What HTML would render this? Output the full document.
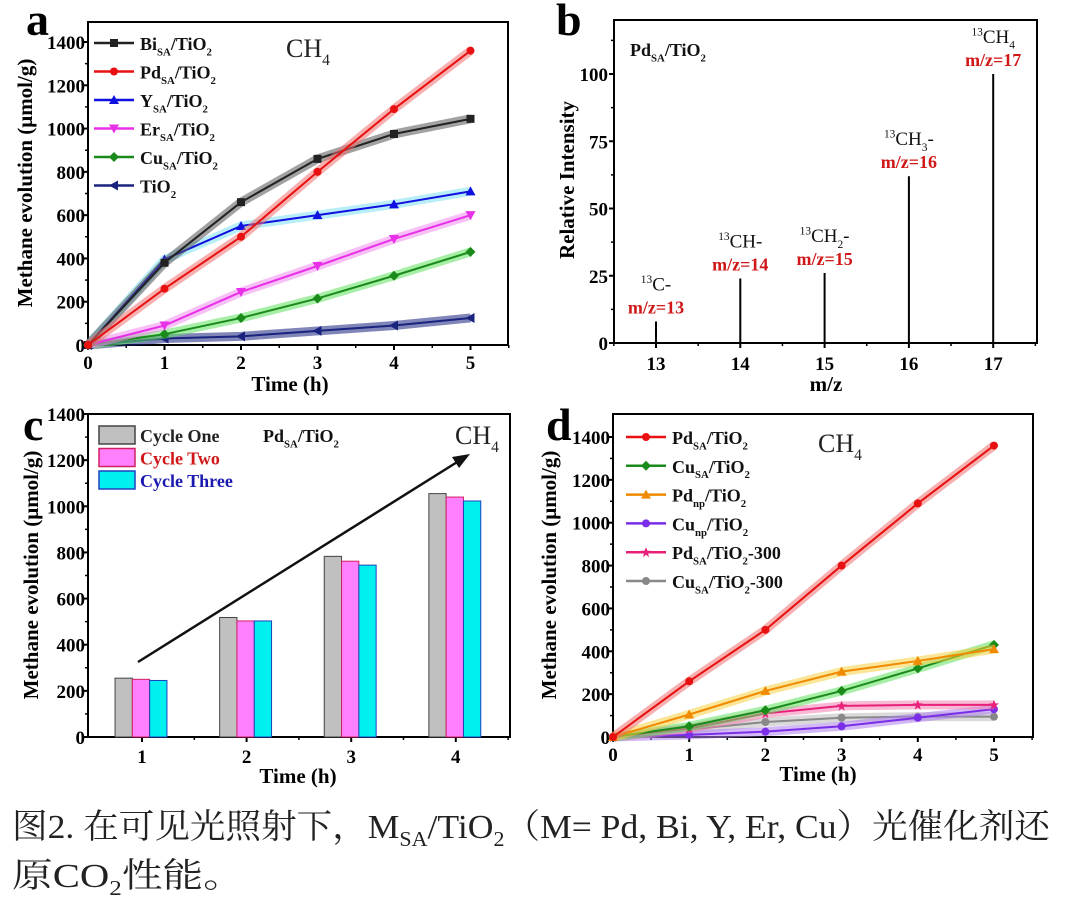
<!DOCTYPE html>
<html><head><meta charset="utf-8"><style>
html,body{margin:0;padding:0;background:#fff;}
svg{display:block;font-family:"Liberation Serif","Noto Serif CJK SC",serif;}
</style></head><body>
<svg id="fig" width="1080" height="915" viewBox="0 0 1080 915" xmlns="http://www.w3.org/2000/svg">
<g id="pa"></g>
<g id="pb"></g>
<g id="pc"></g>
<g id="pd"></g>
<g font-family="Liberation Serif, Noto Serif CJK SC, serif" font-size="34" fill="#222">
<text x="12" y="838" textLength="1038" lengthAdjust="spacingAndGlyphs">图2. 在可见光照射下，M<tspan font-size="21" dy="8">SA</tspan><tspan dy="-8">/TiO</tspan><tspan font-size="21" dy="8">2</tspan><tspan dy="-8">（M= Pd, Bi, Y, Er, Cu）光催化剂还</tspan></text>
<text x="12" y="887" textLength="232" lengthAdjust="spacingAndGlyphs">原CO<tspan font-size="21" dy="8">2</tspan><tspan dy="-8">性能。</tspan></text>
</g>
</svg>
<script>
// Panel a data
const aTimes = [0,1,2,3,4,5];
const aBi = [0,380,660,860,975,1045];
const aPd = [0,260,500,800,1090,1360];
const aY = [0,395,550,600,650,710];
const aEr = [0,90,245,365,490,600];
const aCu = [0,50,125,215,320,430];
const aTi = [0,30,40,65,90,125];
// Panel b data
const bMz = [13,14,15,16,17];
const bIntensity = [8,24,26,62,100];
const bIons = ["C-","CH-","CH2-","CH3-","CH4"];
// Panel c data
const cCats = ["1","2","3","4"];
const cOne = [255,518,783,1055];
const cTwo = [250,503,762,1040];
const cThree = [245,503,745,1023];
// Panel d data
const dPd = [0,260,500,800,1090,1360];
const dCu = [0,50,125,215,320,430];
const dPdnp = [0,105,215,305,355,410];
const dCunp = [0,10,25,50,90,130];
const dPd300 = [0,40,110,145,150,150];
const dCu300 = [0,35,70,90,95,95];
const yTicks = [0,200,400,600,800,1000,1200,1400];
const tTicks = [0,1,2,3,4,5];
const bYTicks = [0,25,50,75,100];

const NS = "http://www.w3.org/2000/svg";
const TICK = 19, TITLE = 21, LEG = 18;
function mk(parent, tag, attrs, text){
  const e = document.createElementNS(NS, tag);
  for (const k in attrs) e.setAttribute(k, attrs[k]);
  if (text !== undefined) e.textContent = text;
  parent.appendChild(e);
  return e;
}
function subText(parent, x, y, parts, size, fill, anchor, weight){
  const t = mk(parent, 'text', {x:x, y:y, 'font-size':size, fill:fill, 'text-anchor':anchor||'start', 'font-weight':weight||'bold'});
  let cur = 0;
  parts.forEach(p=>{
    let dy = 0, fs = size;
    if (p[1]==='sub'){ dy = size*0.3 - cur; cur = size*0.3; fs = size*0.6; }
    else if (p[1]==='sup'){ dy = -size*0.4 - cur; cur = -size*0.4; fs = size*0.6; }
    else { dy = -cur; cur = 0; }
    mk(t, 'tspan', {dy:dy, 'font-size':fs}, p[0]);
  });
  return t;
}
function frame(g, L, T, R, B){
  const r = mk(g, 'rect', {x:L, y:T, width:R-L, height:B-T, fill:'none', stroke:'#000', 'stroke-width':2});
  
  
}
function yAxis(g, L, ys, ticks, minor, title, titleX, cy){
  ticks.forEach((v,i)=>{
    mk(g,'line',{x1:L-5,x2:L,y1:ys(v),y2:ys(v),stroke:'#000','stroke-width':2});
    const t = mk(g,'text',{x:L-3,y:ys(v)+7,'text-anchor':'end','font-size':TICK,'font-weight':'bold'}, v);
    
    
    if (minor && i<ticks.length-1){
      const m=(ticks[i]+ticks[i+1])/2;
      mk(g,'line',{x1:L-3,x2:L,y1:ys(m),y2:ys(m),stroke:'#000','stroke-width':1.5});
    }
  });
  const tt = mk(g,'text',{x:titleX,y:cy,'text-anchor':'middle','font-size':TITLE,'font-weight':'bold',transform:`rotate(-90 ${titleX} ${cy})`}, title);
  
  
}
function xAxisNum(g, B, xs, ticks, minor, title, cx, ty){
  ticks.forEach((v,i)=>{
    mk(g,'line',{x1:xs(v),x2:xs(v),y1:B,y2:B+5,stroke:'#000','stroke-width':2});
    const t = mk(g,'text',{x:xs(v),y:B+24,'text-anchor':'middle','font-size':TICK,'font-weight':'bold'}, v);
    
    
    if (minor){
      const m=v+0.5;
      mk(g,'line',{x1:xs(m),x2:xs(m),y1:B,y2:B+3,stroke:'#000','stroke-width':1.5});
    }
  });
  const tt = mk(g,'text',{x:cx,y:ty,'text-anchor':'middle','font-size':TITLE,'font-weight':'bold'}, title);
  
  
}
function marker(g, type, x, y, color, s){
  s = s||4;
  if (type==='square') return mk(g,'rect',{x:x-s,y:y-s,width:2*s,height:2*s,fill:color});
  if (type==='circle') return mk(g,'circle',{cx:x,cy:y,r:s,fill:color});
  if (type==='up') return mk(g,'polygon',{points:`${x},${y-s-1} ${x-s-1},${y+s} ${x+s+1},${y+s}`,fill:color});
  if (type==='down') return mk(g,'polygon',{points:`${x},${y+s+1} ${x-s-1},${y-s} ${x+s+1},${y-s}`,fill:color});
  if (type==='diamond') return mk(g,'polygon',{points:`${x},${y-s-1} ${x+s+1},${y} ${x},${y+s+1} ${x-s-1},${y}`,fill:color});
  if (type==='left') return mk(g,'polygon',{points:`${x-s-1},${y} ${x+s},${y-s-1} ${x+s},${y+s+1}`,fill:color});
  if (type==='star') return mk(g,'polygon',{points:`${x},${y-5} ${x+1.5},${y-1.5} ${x+5},${y-1.5} ${x+2},${y+1} ${x+3},${y+5} ${x},${y+2.5} ${x-3},${y+5} ${x-2},${y+1} ${x-5},${y-1.5} ${x-1.5},${y-1.5}`,fill:color});
  if (type==='hex') return mk(g,'circle',{cx:x,cy:y,r:s,fill:color});
}
function drawSeries(g, xs, ys, times, vals, color, band, mtype, name){
  const sg = mk(g,'g',{});
  
  
  const pts = times.map((t,i)=>xs(t)+','+ys(vals[i])).join(' ');
  mk(sg,'polyline',{points:pts,fill:'none',stroke:band,'stroke-width':9,'stroke-opacity':0.55,'stroke-linejoin':'round'});
  mk(sg,'polyline',{points:pts,fill:'none',stroke:color,'stroke-width':2});
  times.forEach((t,i)=>{ marker(sg, mtype, xs(t), ys(vals[i]), color); });
}
function legendEntry(g, x, y, color, mtype, parts, size){
  const lg = mk(g,'g',{});
  
  
  mk(lg,'line',{x1:x,x2:x+40,y1:y,y2:y,stroke:color,'stroke-width':2.5});
  marker(lg, mtype, x+20, y, color, 4);
  subText(lg, x+46, y+7, parts, size||LEG, '#111');
}

// ---------- Panel a ----------
(function(){
  const g = document.getElementById('pa');
  const L=88,T=22,R=508,B=345;
  const xs = v => 88 + v*76.5;
  const ys = v => 345 - v*(303/1400);
  frame(g,L,T,R,B);
  yAxis(g,L,ys,yTicks,true,'Methane evolution (μmol/g)',32,183);
  xAxisNum(g,B,xs,tTicks,true,'Time (h)',290,391);
  drawSeries(g,xs,ys,aTimes,aTi,'#1a237e','#1a237e',"left",'series-tio2');
  drawSeries(g,xs,ys,aTimes,aCu,'#1a8a1a','#5ee05e',"diamond",'series-cu-sa');
  drawSeries(g,xs,ys,aTimes,aEr,'#e830e8','#f08cf0',"down",'series-er-sa');
  drawSeries(g,xs,ys,aTimes,aY,'#1010e0','#7ee0f0',"up",'series-y-sa');
  drawSeries(g,xs,ys,aTimes,aBi,'#222','#555',"square",'series-bi-sa');
  drawSeries(g,xs,ys,aTimes,aPd,'#e81010','#f07070',"circle",'series-pd-sa');
  const items=[['#222','square','Bi'],['#e81010','circle','Pd'],['#1010e0','up','Y'],['#e830e8','down','Er'],['#1a8a1a','diamond','Cu']];
  items.forEach((it,i)=>legendEntry(g,94,43+i*28.5,it[0],it[1],[[it[2],'n'],['SA','sub'],['/TiO','n'],['2','sub']]));
  legendEntry(g,94,43+5*28.5,'#1a237e','left',[['TiO','n'],['2','sub']]);
  subText(g,286,57,[['CH','n'],['4','sub']],26,'#222','start','normal');
  const p = mk(g,'text',{x:26,y:35,'font-size':46,'font-weight':'bold'},'a');
   
})();

// ---------- Panel b ----------
(function(){
  const g = document.getElementById('pb');
  const L=614,T=20,R=1037,B=343;
  const xs = v => 656 + (v-13)*84.3;
  const ys = v => 343 - v*2.69;
  frame(g,L,T,R,B);
  bYTicks.forEach((v,i)=>{
    mk(g,'line',{x1:L-5,x2:L,y1:ys(v),y2:ys(v),stroke:'#000','stroke-width':2});
    const t=mk(g,'text',{x:L-6,y:ys(v)+7,'text-anchor':'end','font-size':TICK,'font-weight':'bold'},v);
     
  });
  [12.5,37.5,62.5,87.5,112.5].forEach(v=>mk(g,'line',{x1:L-3,x2:L,y1:ys(v),y2:ys(v),stroke:'#000','stroke-width':1.5}));
  const yt = mk(g,'text',{x:574,y:180,'text-anchor':'middle','font-size':TITLE,'font-weight':'bold',transform:'rotate(-90 574 180)'},'Relative Intensity');
   
  [12.5,13,13.5,14,14.5,15,15.5,16,16.5,17,17.5].forEach(v=>{
    const major = Number.isInteger(v);
    mk(g,'line',{x1:xs(v),x2:xs(v),y1:B,y2:B+(major?5:3),stroke:'#000','stroke-width':major?2:1.5});
  });
  bMz.forEach((m,i)=>{
    const t=mk(g,'text',{x:xs(m),y:370,'text-anchor':'middle','font-size':TICK,'font-weight':'bold'},m);
     
    const ln = mk(g,'line',{x1:xs(m),x2:xs(m),y1:B,y2:ys(bIntensity[i]),stroke:'#000','stroke-width':2});
     
    const top = ys(bIntensity[i]);
    const lb = mk(g,'text',{x:xs(m),y:top-8,'text-anchor':'middle','font-size':18,'font-weight':'bold',fill:'#d01818'},'m/z='+m);
     
    const ion = bIons[i];
    const mt = ion.match(/^(CH|C)(\d?)(-?)$/);
    const parts=[['13','sup'],[mt[1],'n']];
    if (mt[2]) parts.push([mt[2],'sub']);
    if (mt[3]) parts.push(['-','n']);
    const it = subText(g, xs(m), top-31, parts, 19, '#111','middle','normal');
     
  });
  const xt=mk(g,'text',{x:826,y:391,'text-anchor':'middle','font-size':TITLE,'font-weight':'bold'},'m/z');
   
  subText(g,630,56,[['Pd','n'],['SA','sub'],['/TiO','n'],['2','sub']],18,'#111');
  const p = mk(g,'text',{x:556,y:35,'font-size':46,'font-weight':'bold'},'b');
   
})();

// ---------- Panel c ----------
(function(){
  const g = document.getElementById('pc');
  const L=88,T=414,R=510,B=737;
  const xc = i => 142 + i*104.6;
  const ys = v => 737 - v*(323/1400);
  frame(g,L,T,R,B);
  yAxis(g,L,ys,yTicks,true,'Methane evolution (μmol/g)',38,575);
  cCats.forEach((c,i)=>{
    mk(g,'line',{x1:xc(i),x2:xc(i),y1:B,y2:B+5,stroke:'#000','stroke-width':2});
    mk(g,'line',{x1:xc(i)+52.3,x2:xc(i)+52.3,y1:B,y2:B+3,stroke:'#000','stroke-width':1.5});
    const t=mk(g,'text',{x:xc(i),y:763,'text-anchor':'middle','font-size':TICK,'font-weight':'bold'},c);
     
  });
  const xt=mk(g,'text',{x:298,y:783,'text-anchor':'middle','font-size':TITLE,'font-weight':'bold'},'Time (h)');
   
  const sets=[[cOne,'#c0c0c0','#444','bar-cycle-one'],[cTwo,'#ff80ff','#d02060','bar-cycle-two'],[cThree,'#00f0f0','#2040c0','bar-cycle-three']];
  const bw=17.3;
  sets.forEach((s,k)=>{
    s[0].forEach((v,i)=>{
      const x = xc(i) - 1.5*bw + k*bw - 1;
      const r=mk(g,'rect',{x:x,y:ys(v),width:bw,height:B-ys(v),fill:s[1],stroke:s[2],'stroke-width':1});
       
    });
  });
  const leg=[['#c0c0c0','#444','Cycle One','#222'],['#ff80ff','#d02060','Cycle Two','#d01818'],['#00f0f0','#2040c0','Cycle Three','#1a1ab0']];
  leg.forEach((l,i)=>{
    const lg=mk(g,'g',{});  
    mk(lg,'rect',{x:99,y:426+i*22.5,width:36,height:18,fill:l[0],stroke:l[1],'stroke-width':1.5});
    mk(lg,'text',{x:140,y:442+i*22.5,'font-size':18,'font-weight':'bold',fill:l[3]},l[2]);
  });
  subText(g,263,442,[['Pd','n'],['SA','sub'],['/TiO','n'],['2','sub']],18,'#111');
  subText(g,455,444,[['CH','n'],['4','sub']],26,'#222','start','normal');
  const ar=mk(g,'g',{});  
  mk(ar,'line',{x1:138,y1:662,x2:462,y2:459,stroke:'#111','stroke-width':2.5});
  mk(ar,'polygon',{points:'470,454 452,457 459,468',fill:'#111'});
  const p = mk(g,'text',{x:23,y:440,'font-size':46,'font-weight':'bold'},'c');
   
})();

// ---------- Panel d ----------
(function(){
  const g = document.getElementById('pd');
  const L=613,T=414,R=1033,B=737;
  const xs = v => 613 + v*76.2;
  const ys = v => 737 - v*(300/1400);
  frame(g,L,T,R,B);
  yAxis(g,L,ys,yTicks,true,'Methane evolution (μmol/g)',556,575);
  xAxisNum(g,B,xs,tTicks,true,'Time (h)',818,781);
  drawSeries(g,xs,ys,aTimes,dCu300,'#888','#bbb',"hex",'series-cu-sa-300');
  drawSeries(g,xs,ys,aTimes,dCunp,'#7b2ee8','#b080f0',"circle",'series-cu-np');
  drawSeries(g,xs,ys,aTimes,dPd300,'#e8207a','#f080b0',"star",'series-pd-sa-300');
  drawSeries(g,xs,ys,aTimes,dCu,'#1a8a1a','#5ee05e',"diamond",'series-cu-sa');
  drawSeries(g,xs,ys,aTimes,dPdnp,'#f08a00','#f8d040',"up",'series-pd-np');
  drawSeries(g,xs,ys,aTimes,dPd,'#e81010','#f07070',"circle",'series-pd-sa');
  const items=[['#e81010','circle',[['Pd','n'],['SA','sub'],['/TiO','n'],['2','sub']]],
    ['#1a8a1a','diamond',[['Cu','n'],['SA','sub'],['/TiO','n'],['2','sub']]],
    ['#f08a00','up',[['Pd','n'],['np','sub'],['/TiO','n'],['2','sub']]],
    ['#7b2ee8','circle',[['Cu','n'],['np','sub'],['/TiO','n'],['2','sub']]],
    ['#e8207a','star',[['Pd','n'],['SA','sub'],['/TiO','n'],['2','sub'],['-300','n']]],
    ['#888','hex',[['Cu','n'],['SA','sub'],['/TiO','n'],['2','sub'],['-300','n']]]];
  items.forEach((it,i)=>legendEntry(g,626,437+i*28.8,it[0],it[1],it[2]));
  subText(g,818,452,[['CH','n'],['4','sub']],26,'#222','start','normal');
  const p = mk(g,'text',{x:546,y:440,'font-size':46,'font-weight':'bold'},'d');
   
})();
</script>
</body></html>
